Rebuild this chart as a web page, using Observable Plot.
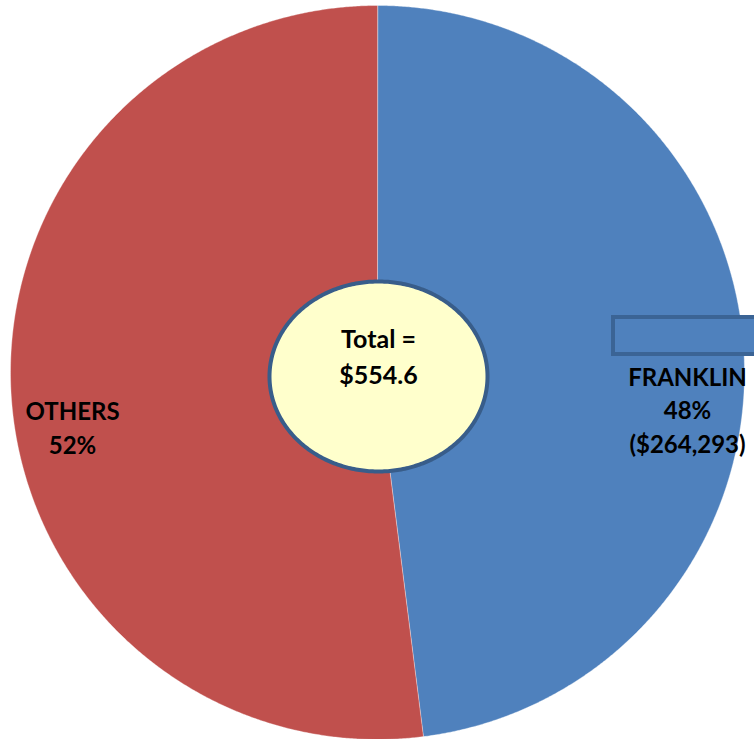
<!DOCTYPE html>
<html>
<head>
<meta charset="utf-8">
<script src="https://cdn.jsdelivr.net/npm/d3@7"></script>
<script src="https://cdn.jsdelivr.net/npm/@observablehq/plot@0.6"></script>
<style>
  html, body { margin: 0; padding: 0; background: #fff; }
  #chart svg { display: block; }
</style>
</head>
<body>
<div id="chart"></div>
<script>
// ---- data ----
const categories = ["FRANKLIN", "OTHERS"];
const shares = [48, 52];
const amountLabels = ["($264,293)", ""];
const sliceColors = ["#4F81BD", "#C0504D"];
const totalLabel = ["Total =", "$554.6"];

// ---- layout (pixel-like units relative to pie centre) ----
const W = 754, H = 739;
const CX = 377, CY = 372, R = 367;
const font = "Lato, 'Open Sans', sans-serif";

// pie slices from data via d3.pie (clockwise from 12 o'clock)
const pie = d3.pie().sort(null).value(d => d.share);
const arcs = pie(categories.map((c, i) => ({cat: c, share: shares[i], color: sliceColors[i]})));
const slicePts = [];
for (const a of arcs) {
  const n = Math.max(2, Math.ceil((a.endAngle - a.startAngle) / 0.005));
  slicePts.push({cat: a.data.cat, x: 0, y: 0});
  for (let k = 0; k <= n; k++) {
    const t = a.startAngle + (a.endAngle - a.startAngle) * k / n;
    slicePts.push({cat: a.data.cat, x: R * Math.sin(t), y: -R * Math.cos(t)});
  }
}
const ellipse = [];
for (let k = 0; k < 360; k++) {
  const t = k * Math.PI / 180;
  ellipse.push({x: 1 + 109 * Math.cos(t), y: 4 + 95 * Math.sin(t)});
}

const sliceLabels = [
  {text: `${categories[0]}\n${shares[0]}%\n${amountLabels[0]}`, x: 310, y: 36},
  {text: `${categories[1]}\n${shares[1]}%`, x: -305, y: 54}
];
const centerLabel = [{text: totalLabel.join("\n"), x: 1, y: -18}];

const plot = Plot.plot({
  width: W, height: H,
  margin: 0,
  x: {domain: [-CX, W - CX], range: [0, W], axis: null},
  y: {domain: [-CY, H - CY], range: [0, H], axis: null},
  color: {domain: categories, range: sliceColors},
  style: {background: "#fff", overflow: "visible"},
  marks: [
    Plot.line(slicePts, {x: "x", y: "y", z: "cat", fill: "cat", stroke: "#ffffff", strokeOpacity: 0.35, strokeWidth: 1, curve: "linear-closed"}),
    Plot.rect([{x1: 236, x2: 380, y1: -55, y2: -18}], {x1: "x1", x2: "x2", y1: "y1", y2: "y2", fill: sliceColors[0], stroke: "#3B6495", strokeWidth: 4}),
    Plot.line(ellipse, {x: "x", y: "y", fill: "#FFFFCC", stroke: "#385D8A", strokeWidth: 4, curve: "linear-closed"}),
    Plot.text(sliceLabels, {x: "x", y: "y", text: "text", fontSize: 24, fontWeight: "bold", fill: "#000", fontFamily: font, lineHeight: 1.4, textAnchor: "middle"}),
    Plot.text(centerLabel, {x: "x", y: "y", text: "text", fontSize: 25, fontWeight: "bold", fill: "#000", fontFamily: font, lineHeight: 1.42, textAnchor: "middle"})
  ]
});
document.getElementById("chart").appendChild(plot);
</script>
</body>
</html>
